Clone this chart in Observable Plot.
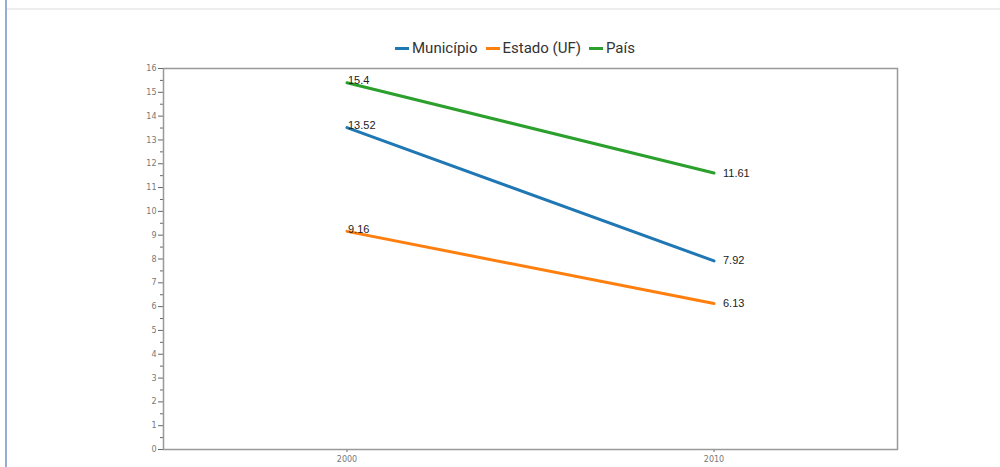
<!DOCTYPE html>
<html>
<head>
<meta charset="utf-8">
<script src="https://cdn.jsdelivr.net/npm/d3@7"></script>
<script src="https://cdn.jsdelivr.net/npm/@observablehq/plot@0.6"></script>
<style>
  html, body { margin: 0; padding: 0; background: #fff; }
  #wrap { position: relative; width: 1000px; height: 467px; overflow: hidden; background: #fff; }
  #leftbar { position: absolute; left: 5px; top: 0; width: 2px; height: 467px; background: #95abd9; }
  #topline { position: absolute; left: 7px; top: 8px; width: 993px; height: 2px; background: #eeeeee; }
  #legend { position: absolute; top: 39px; left: 0; width: 1030px; text-align: center;
            font-family: Roboto, "Liberation Sans", sans-serif; font-size: 15px; color: #333; }
  #legend span.item { margin: 0 4px; white-space: nowrap; }
  #legend span.sw { display: inline-block; width: 14px; height: 3px; vertical-align: middle; margin-right: 3px; position: relative; top: -1px; }
  #chart { position: absolute; left: 0; top: 0; }
</style>
</head>
<body>
<div id="wrap">
  <div id="leftbar"></div>
  <div id="topline"></div>
  <div id="legend"></div>
  <div id="chart"></div>
</div>
<script>
const years = [2000, 2010];
const seriesNames = ["Município", "Estado (UF)", "País"];
const municipio = [13.52, 7.92];
const estado = [9.16, 6.13];
const pais = [15.4, 11.61];
const seriesColors = ["#1f77b4", "#ff7f0e", "#2ca02c"];
const yTicks = d3.range(0, 17);
const yMinorTicks = d3.range(0.5, 16, 1);

const allValues = [municipio, estado, pais];
const data = [];
seriesNames.forEach((name, i) => {
  years.forEach((yr, j) => data.push({series: name, year: yr, value: allValues[i][j]}));
});

// legend
const legend = document.getElementById("legend");
seriesNames.forEach((name, i) => {
  const item = document.createElement("span");
  item.className = "item";
  const sw = document.createElement("span");
  sw.className = "sw";
  sw.style.background = seriesColors[i];
  item.appendChild(sw);
  item.appendChild(document.createTextNode(name));
  legend.appendChild(item);
});

const first = data.filter(d => d.year === years[0]);
const last = data.filter(d => d.year === years[years.length - 1]);

const chart = Plot.plot({
  width: 1000,
  height: 467,
  marginLeft: 163,
  marginRight: 103,
  marginTop: 68,
  marginBottom: 18,
  style: {background: "transparent", fontFamily: "'DejaVu Sans', sans-serif"},
  x: {domain: [1995, 2015]},
  y: {domain: [0, 16]},
  color: {domain: seriesNames, range: seriesColors},
  marks: [
    Plot.axisX({ticks: years, tickFormat: d => String(d), tickSize: 3, fontSize: 8, fill: "#777", stroke: "#666", label: null, tickPadding: 4}),
    Plot.axisY({ticks: yTicks, tickSize: 5, fontSize: 8, fill: "#777", stroke: "#666", label: null, tickPadding: 2}),
    Plot.axisY({ticks: yMinorTicks, tickSize: 3, text: null, stroke: "#666", label: null}),
    Plot.frame({stroke: "#999", strokeWidth: 1.5}),
    Plot.line(data, {x: "year", y: "value", z: "series", stroke: "series", strokeWidth: 3}),
    Plot.text(first, {x: "year", y: "value", text: d => String(d.value), textAnchor: "start", dx: 1, dy: -2, fontSize: 11, fill: "#222", fontFamily: "'Liberation Sans', Arial, sans-serif"}),
    Plot.text(last, {x: "year", y: "value", text: d => String(d.value), textAnchor: "start", dx: 9, fontSize: 11, fill: "#222", fontFamily: "'Liberation Sans', Arial, sans-serif"})
  ]
});
document.getElementById("chart").appendChild(chart);
</script>
</body>
</html>
